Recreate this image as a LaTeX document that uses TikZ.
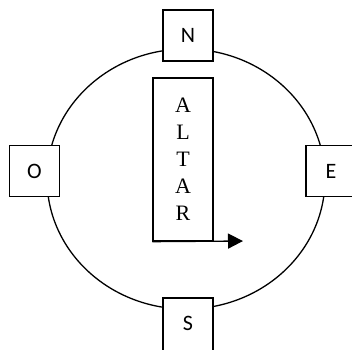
\documentclass[tikz,border=0pt]{standalone}
\usepackage{fontspec}
\setmainfont{Liberation Serif}
\newfontfamily\calib{Carlito}
\usetikzlibrary{arrows.meta}
\begin{document}
\begin{tikzpicture}[x=1pt,y=-1pt,line width=1.3pt,
  dirbox/.style={draw,fill=white,minimum width=50pt,minimum height=51pt,inner sep=0pt,font=\calib\fontsize{22}{24}\selectfont},
  altarbox/.style={draw,minimum width=60pt,minimum height=163pt,inner sep=0pt,align=center,font=\fontsize{22}{27}\selectfont}]
\useasboundingbox (0,0) rectangle (352,349);
\fill[white] (0,0) rectangle (352,349);
\draw (186,179) ellipse [x radius=139pt, y radius=130pt];
\node[dirbox] (N) at (188,35.5) {N};
\node[dirbox] (O) at (34.5,171) {O};
\node[dirbox,minimum width=64pt] (E) at (338,171) {\makebox[50pt][c]{E}\hspace*{14pt}};
\node[dirbox,minimum height=65pt,text depth=14pt] (S) at (188,330.5) {S};
\node[altarbox] (altar) at (183,159.5) {A\\L\\T\\A\\R};
\coordinate (tip) at (243,241);
\draw[-{Triangle[length=15pt,width=15pt]}] (altar.south west) -- (tip);
\end{tikzpicture}
\end{document}
